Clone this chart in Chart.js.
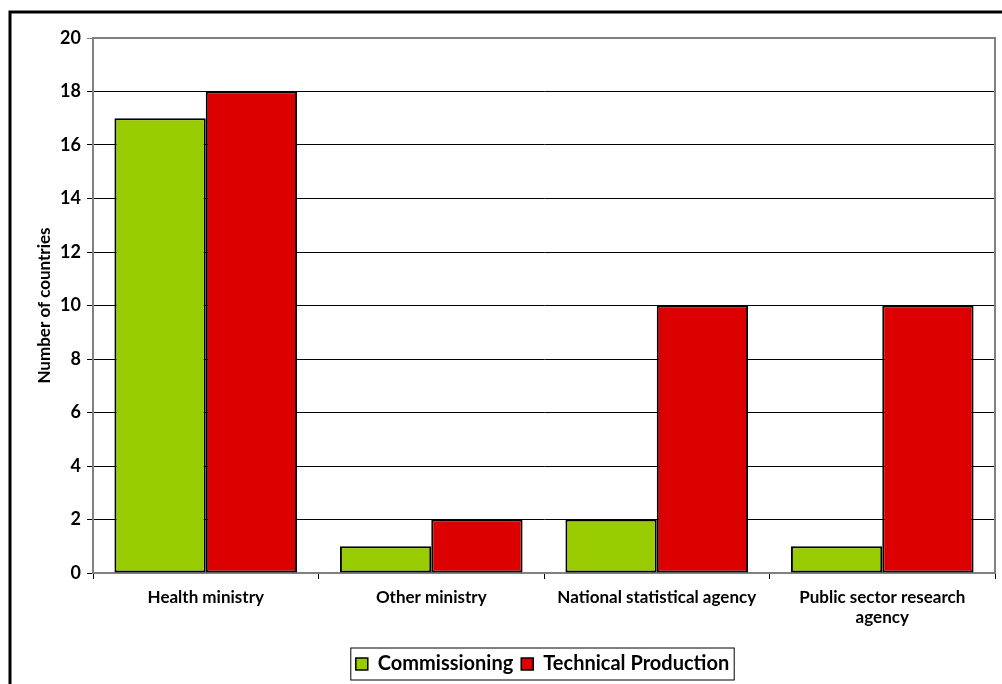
<!DOCTYPE html>
<html>
<head>
<meta charset="utf-8">
<script src="https://cdn.jsdelivr.net/npm/chart.js@4"></script>
<style>
  html, body { margin: 0; padding: 0; background: #fff; }
  #wrap { width: 1002px; height: 684px; position: relative; }
</style>
</head>
<body>
<div id="wrap"><canvas id="agencyChart"></canvas></div>
<script>
// Valeurs
const categories = ['Health ministry', 'Other ministry', 'National statistical agency', ['Public sector research', 'agency']];
const commissioning = [17, 1, 2, 1];
const technicalProduction = [18, 2, 10, 10];
const yTicks = [0, 2, 4, 6, 8, 10, 12, 14, 16, 18, 20];

const FONT = 'Lato, "Open Sans", sans-serif';

// Cadre noir (haut et gauche) + bordure grise du graphique + cadre de la légende
const framePlugin = {
  id: 'frame',
  afterLayout(chart) {
    // légende décalée vers la droite comme dans l'original
    chart.legend.left += 38;
    chart.legend.right += 38;
  },
  beforeDraw(chart) {
    const ctx = chart.ctx;
    ctx.save();
    ctx.fillStyle = '#fff';
    ctx.fillRect(0, 0, chart.width, chart.height);
    ctx.strokeStyle = '#000';
    ctx.lineWidth = 3;
    ctx.beginPath();
    ctx.moveTo(10, chart.height);
    ctx.lineTo(10, 12);
    ctx.lineTo(chart.width, 12);
    ctx.stroke();
    ctx.restore();
  },
  afterDraw(chart) {
    const ctx = chart.ctx;
    const a = chart.chartArea;
    ctx.save();
    ctx.strokeStyle = '#808080';
    ctx.lineWidth = 2;
    ctx.beginPath();
    ctx.moveTo(a.left, a.top);
    ctx.lineTo(a.right, a.top);
    ctx.lineTo(a.right, a.bottom);
    ctx.stroke();
    // cadre de la légende
    const boxes = chart.legend.legendHitBoxes;
    if (boxes && boxes.length) {
      const first = boxes[0];
      const last = boxes[boxes.length - 1];
      ctx.strokeStyle = '#000';
      ctx.lineWidth = 1;
      ctx.strokeRect(first.left - 5, first.top - 6, last.left + last.width - first.left + 10, first.height + 12);
    }
    ctx.restore();
  }
};

const agencyChart = new Chart(document.getElementById('agencyChart'), {
  type: 'bar',
  data: {
    labels: categories,
    datasets: [
      {
        label: 'Commissioning',
        data: commissioning,
        backgroundColor: '#99cc00',
        borderColor: '#000',
        borderWidth: 2,
        borderSkipped: false,
      },
      {
        label: 'Technical Production',
        data: technicalProduction,
        backgroundColor: '#dd0000',
        borderColor: '#000',
        borderWidth: 2,
        borderSkipped: false,
      },
    ],
  },
  options: {
    responsive: true,
    maintainAspectRatio: false,
    animation: false,
    devicePixelRatio: 1,
    categoryPercentage: 0.81,
    barPercentage: 1.0,
    layout: { padding: { left: 14, right: 7, top: 38, bottom: 0 } },
    plugins: {
      tooltip: { enabled: false },
      legend: {
        display: true,
        position: 'bottom',
        labels: {
          color: '#000',
          font: { family: FONT, size: 20, weight: 'bold' },
          boxWidth: 12,
          boxHeight: 12,
          padding: 8,
          generateLabels(chart) {
            return chart.data.datasets.map((ds, i) => ({
              text: ds.label,
              fillStyle: ds.backgroundColor,
              strokeStyle: '#000',
              lineWidth: 1.5,
              datasetIndex: i,
            }));
          },
        },
      },
    },
    scales: {
      x: {
        offset: true,
        grid: {
          offset: true,
          drawOnChartArea: false,
          drawTicks: true,
          tickLength: 6,
          color: '#000',
        },
        border: { display: true, color: '#808080', width: 2 },
        ticks: {
          color: '#000',
          padding: 8,
          maxRotation: 0,
          autoSkip: false,
          font: { family: FONT, size: 17, weight: 'bold' },
        },
        afterFit(scale) {
          scale.height = 111 - scale.chart.legend.height;
        },
      },
      y: {
        min: 0,
        max: 20,
        afterBuildTicks(scale) {
          scale.ticks = yTicks.map(v => ({ value: v }));
        },
        grid: {
          color: ctx => (ctx.tick && ctx.tick.value === 20 ? '#808080' : '#000'),
          lineWidth: 1,
          tickLength: 6,
        },
        border: { display: true, color: '#808080', width: 2 },
        ticks: {
          color: '#000',
          padding: 6,
          font: { family: FONT, size: 18, weight: 'bold' },
        },
        title: {
          display: true,
          text: 'Number of countries',
          color: '#000',
          padding: { top: 20, bottom: 0 },
          font: { family: FONT, size: 17, weight: 'bold' },
        },
        afterFit(scale) {
          scale.width = 79;
        },
      },
    },
  },
  plugins: [framePlugin],
});
</script>
</body>
</html>
